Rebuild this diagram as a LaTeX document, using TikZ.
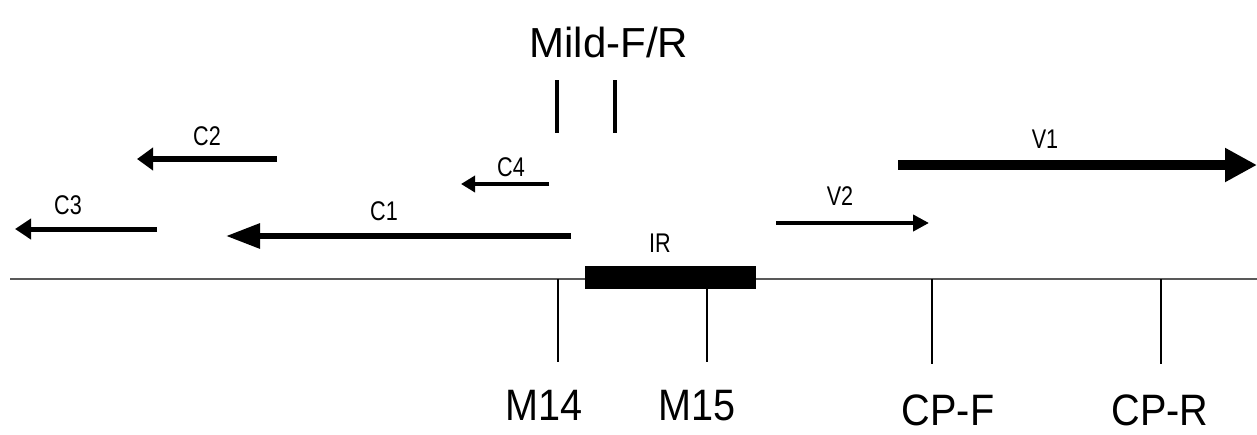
\documentclass[tikz,border=0pt]{standalone}
\usepackage{fontspec}
\setmainfont{Liberation Sans}
\usetikzlibrary{arrows.meta}
\begin{document}
\begin{tikzpicture}[x=0.5pt,y=-0.5pt,
  big/.style={font=\fontsize{21pt}{24pt}\selectfont, inner sep=0pt, anchor=base},
  narrowbig/.style={font=\fontsize{22pt}{24pt}\selectfont, inner sep=0pt, anchor=base, xscale=0.9},
  small/.style={font=\fontsize{13.5pt}{15pt}\selectfont, inner sep=0pt, anchor=base, xscale=0.8},
  tick/.style={line width=#1},
  bar/.style={line width=2pt}]
\useasboundingbox (0,0) rectangle (1257,434);

% genome line and inverted repeat block
\coordinate (g0) at (10,279);
\coordinate (g1) at (1257,279);
\draw[line width=1pt, black!65] (g0) -- (g1);
\node[fill=black, draw=none, minimum width=85.5pt, minimum height=11.5pt, inner sep=0pt] (ir) at (670.5,277.5) {};
\node[small] (irl) at (660,252) {IR};

% open reading frames
\coordinate (c2a) at (277,159);  \coordinate (c2b) at (137,159);
\coordinate (c4a) at (549,184);  \coordinate (c4b) at (461,184);
\coordinate (c3a) at (157,229);  \coordinate (c3b) at (15,229);
\coordinate (c1a) at (571,236);  \coordinate (c1b) at (226,236);
\coordinate (v2a) at (776,223);  \coordinate (v2b) at (929,223);
\coordinate (v1a) at (898,165);  \coordinate (v1b) at (1257,165);

\draw[line width=3pt, -{Triangle[length=8pt,width=11pt]}] (c2a) -- (c2b);
\draw[line width=2pt, -{Triangle[length=7pt,width=8pt]}] (c4a) -- (c4b);
\draw[line width=2.5pt, -{Triangle[length=8pt,width=10pt]}] (c3a) -- (c3b);
\draw[line width=3pt, -{Triangle[length=17pt,width=12pt]}] (c1a) -- (c1b);
\draw[line width=2pt, -{Triangle[length=8pt,width=8pt]}] (v2a) -- (v2b);
\draw[line width=5pt, -{Triangle[length=16pt,width=16pt]}] (v1a) -- (v1b);

\node[small] (c2l) at (207,145) {C2};
\node[small] (c4l) at (511,176) {C4};
\node[small] (c3l) at (68,214) {C3};
\node[small] (c1l) at (384,220) {C1};
\node[small] (v2l) at (840,205) {V2};
\node[small] (v1l) at (1045,148) {V1};

% Mild primer pair
\node[big] (mild) at (609,57) {Mild-F/R};
\coordinate (mfa) at (557,80);  \coordinate (mfb) at (557,133);
\coordinate (mra) at (615,80);  \coordinate (mrb) at (615,133);
\draw[bar] (mfa) -- (mfb);
\draw[bar] (mra) -- (mrb);

% primer sites below the genome
\coordinate (m14a) at (558,279); \coordinate (m14b) at (558,362);
\coordinate (m15a) at (707,279); \coordinate (m15b) at (707,362);
\coordinate (cpfa) at (932,279); \coordinate (cpfb) at (932,364);
\coordinate (cpra) at (1161,279); \coordinate (cprb) at (1161,364);
\draw[tick=0.7pt] (m14a) -- (m14b);
\draw[tick=0.7pt] (m15a) -- (m15b);
\draw[tick=1.4pt] (cpfa) -- (cpfb);
\draw[tick=1.4pt] (cpra) -- (cprb);

\node[narrowbig] (m14) at (544,420) {M14};
\node[narrowbig] (m15) at (697,420) {M15};
\node[narrowbig] (cpf) at (948,425) {CP-F};
\node[narrowbig] (cpr) at (1160,425) {CP-R};
\end{tikzpicture}
\end{document}
